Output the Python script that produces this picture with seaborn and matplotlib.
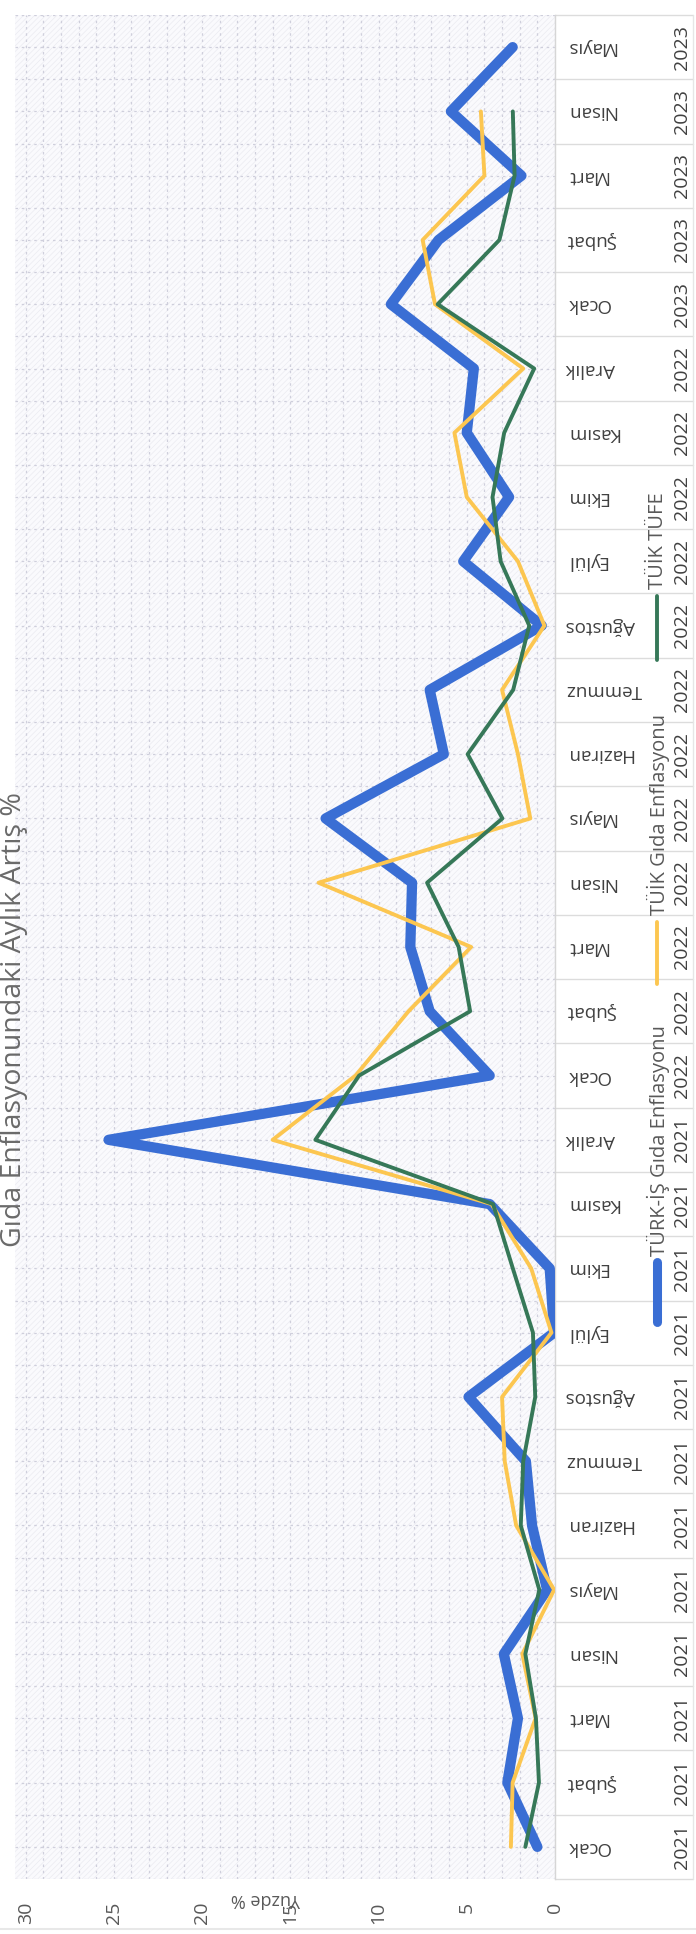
import numpy as np
import pandas as pd
import matplotlib
matplotlib.use("Agg")
import matplotlib.pyplot as plt
import matplotlib.transforms as mtransforms
from matplotlib.lines import Line2D
import seaborn as sns

# ---------------- data ----------------
months12 = ['Ocak', 'Şubat', 'Mart', 'Nisan', 'Mayıs', 'Haziran', 'Temmuz',
            'Ağustos', 'Eylül', 'Ekim', 'Kasım', 'Aralık']
months = months12 + months12 + months12[:5]
years = ['2021'] * 12 + ['2022'] * 12 + ['2023'] * 5

turkis_gida = [1.0, 2.7, 2.1, 2.9, 0.45, 1.3, 1.65, 4.9, 0.05, 0.3, 3.7, 25.3,
               3.7, 7.1, 8.2, 8.1, 13.0, 6.3, 7.1, 0.75, 5.2, 2.6, 5.0, 4.6,
               9.3, 6.6, 1.9, 5.9, 2.4]
tuik_gida = [2.5, 2.4, 1.1, 1.85, 0.05, 2.2, 2.85, 3.0, 0.2, 1.35, 3.6, 16.0,
             11.3, 8.3, 4.75, 13.4, 1.4, 2.1, 3.0, 0.6, 2.1, 5.0, 5.7, 1.8,
             6.8, 7.5, 4.0, 4.2]
tuik_tufe = [1.68, 0.91, 1.08, 1.68, 0.89, 1.94, 1.80, 1.12, 1.25, 2.39, 3.51, 13.58,
             11.10, 4.81, 5.46, 7.25, 2.98, 4.95, 2.37, 1.46, 3.08, 3.54, 2.88, 1.18,
             6.65, 3.15, 2.29, 2.39]

series_names = ['TÜRK-İŞ Gıda Enflasyonu', 'TÜİK Gıda Enflasyonu', 'TÜİK TÜFE']
series_values = [turkis_gida, tuik_gida, tuik_tufe]
value_ticks = [0, 5, 10, 15, 20, 25, 30]

colors = ['#3a6ed4', '#fcc650', '#367858']
widths = [7.4, 2.8, 2.8]

# ---------------- style ----------------
sns.set_theme(style='white')
FONT = ['Open Sans', 'DejaVu Sans']
plt.rcParams['font.family'] = FONT
plt.rcParams['hatch.linewidth'] = 0.5
plt.rcParams['hatch.color'] = '#ebebf1'

W, H = 696, 1934
fig = plt.figure(figsize=(W / 100, H / 100), dpi=100)
fig.patch.set_facecolor('white')

left_px, right_px, top_px, bot_px = 15, 555, 15, 1879
ax = fig.add_axes([left_px / W, 1 - bot_px / H, (right_px - left_px) / W, (bot_px - top_px) / H])

ax.patch.set_facecolor('#fafafd')
ax.patch.set_hatch('//////')
ax.patch.set_edgecolor('#ebebf1')
ax.patch.set_linewidth(0)

for name, vals, col, lw in zip(series_names, series_values, colors, widths):
    df = pd.DataFrame({'idx': np.arange(len(vals)), 'value': vals})
    sns.lineplot(data=df, x='value', y='idx', orient='y', sort=False, estimator=None,
                 color=col, linewidth=lw, ax=ax, legend=False,
                 solid_capstyle='round', solid_joinstyle='round', zorder=3)

n = len(months)
ax.set_xlim(30.6, 0)
ax.set_ylim(-0.5, n - 0.5)

# grid
ax.set_xticks(value_ticks)
ax.set_xticks(np.arange(0, 31, 1), minor=True)
ax.set_yticks(np.arange(n))
ax.set_yticks(np.arange(-0.5, n, 1), minor=True)
ax.grid(True, which='both', color='#cfcfdc', linestyle=(0, (2, 3)), linewidth=0.9, zorder=1)

ax.set_xlabel('')
ax.set_ylabel('')

# value tick labels (rotated)
ax.set_xticklabels([str(v) for v in value_ticks], rotation=90, fontsize=14, color='#595959')
ax.tick_params(axis='x', which='both', length=0, pad=16.5)

# month labels on the right
ax.yaxis.tick_right()
ax.set_yticklabels(months, rotation=180, fontsize=13.5, color='#404040')
for lab in ax.get_yticklabels():
    lab.set_va('center')
    lab.set_ha('left')
ax.tick_params(axis='y', which='both', length=0, pad=8)

for s in ['top', 'left', 'bottom']:
    ax.spines[s].set_visible(False)
ax.spines['right'].set_color('#d6d6d6')
ax.spines['right'].set_linewidth(1.0)

# category boxes and year labels
blend = mtransforms.blended_transform_factory(ax.transAxes, ax.transData)
box_right = (693 - left_px) / (right_px - left_px)
year_x = (682 - left_px) / (right_px - left_px)
for b in np.arange(-0.5, n, 1):
    ax.plot([1.0, box_right], [b, b], transform=blend, color='#dcdcdc', lw=1.0,
            clip_on=False, zorder=2)
ax.plot([box_right, box_right], [-0.5, n - 0.5], transform=blend, color='#e6e6e6',
        lw=1.0, clip_on=False)
for i, y in enumerate(years):
    ax.text(year_x, i, y, transform=blend, rotation=90, ha='center', va='center',
            fontsize=14, color='#404040')

# title and axis title
fig.text(14 / W, 1 - 1020 / H, 'Gıda Enflasyonundaki Aylık Artış %', rotation=90,
         ha='center', va='center', fontsize=20.5, color='#6a6a6a')
fig.text(266 / W, 1 - 1899 / H, 'Yüzde %', rotation=180, ha='center', va='center',
         fontsize=13, color='#595959')

# legend (rotated, drawn manually)
leg_x = 657 / W
leg_items = [(1322, 1262, 1256), (984, 922, 915), (660, 596, 589)]
for (m0, m1, t0), name, col, lw in zip(leg_items, series_names, colors, widths):
    fig.add_artist(Line2D([leg_x, leg_x], [1 - m0 / H, 1 - m1 / H], color=col,
                          lw=min(lw, 6.5), solid_capstyle='round', transform=fig.transFigure))
    fig.text(leg_x + 1 / W, 1 - t0 / H, name, rotation=90, ha='center', va='bottom',
             fontsize=14.5, color='#595959')

# faint chart border at bottom
fig.add_artist(Line2D([0, 1], [1 - 1929 / H, 1 - 1929 / H], color='#e8e8e8', lw=1.5,
                      transform=fig.transFigure))

fig.savefig('out.png', dpi=100)
